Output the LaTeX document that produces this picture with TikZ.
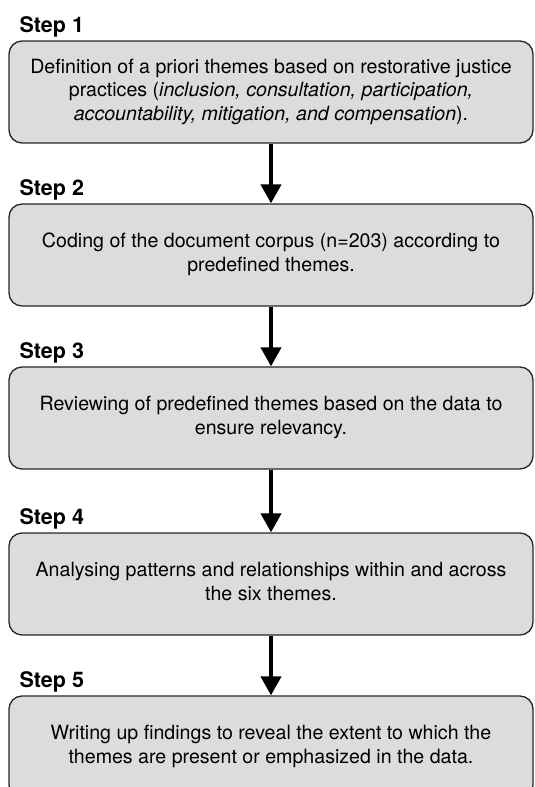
\documentclass[tikz,border=0pt]{standalone}
\usepackage{fontspec}
\setmainfont{TeX Gyre Heros}
\usepackage{tikz}
\usetikzlibrary{arrows.meta,positioning}
\definecolor{boxgray}{RGB}{220,220,220}

\begin{document}
\begin{tikzpicture}[
    auto,
    node distance=163pt,
    >={Triangle[width=20pt,length=19pt]},
    font=\fontsize{19.6}{23.5}\selectfont,
    stepbox/.style={
		rectangle,
		rounded corners=13pt,
		draw=black!85,
		line width=1.3pt,
		text centered,
		minimum width=524pt,
		minimum height=102pt,
		fill=boxgray
	},
	steplabel/.style={
		font=\fontsize{21.5}{25}\selectfont\bfseries,
		inner sep=0pt,
		anchor=base west
	},
	flow/.style={
		line width=4pt
	}
  ]
  \clip (0pt,0pt) rectangle (535pt,-787pt);
    % We start by placing the blocks

  \node [stepbox] (box1) at (271pt,-92pt)
 {%
 \begin{tabular}{c}
  Definition of a priori themes based on restorative justice\\
  practices (\textit{inclusion, consultation, participation,}\\
  \textit{accountability, mitigation, and compensation}).
 \end{tabular}
 };

  \node [stepbox, below of=box1] (box2)
 {%
 \begin{tabular}{c}
  Coding of the document corpus (n=203) according to\\
  predefined themes.
 \end{tabular}
 };

  \node [stepbox, below of=box2] (box3)
 {%
 \begin{tabular}{c}
  Reviewing of predefined themes based on the data to\\
  ensure relevancy.
 \end{tabular}
 };

  \node [stepbox, below of=box3, yshift=-3pt] (box4)
 {%
 \begin{tabular}{c}
  Analysing patterns and relationships within and across\\
  the six themes.
 \end{tabular}
 };

  \node [stepbox, below of=box4] (box5)
 {%
 \begin{tabular}{c}
  Writing up findings to reveal the extent to which the\\
  themes are present or emphasized in the data.
 \end{tabular}
 };

 % step titles
 \node [steplabel] (lab1) at ([xshift=11pt, yshift=8pt]box1.north west) {Step 1};
 \node [steplabel] (lab2) at ([xshift=11pt, yshift=8pt]box2.north west) {Step 2};
 \node [steplabel] (lab3) at ([xshift=11pt, yshift=8pt]box3.north west) {Step 3};
 \node [steplabel] (lab4) at ([xshift=11pt, yshift=8pt]box4.north west) {Step 4};
 \node [steplabel] (lab5) at ([xshift=11pt, yshift=8pt]box5.north west) {Step 5};

 \draw [flow,->] (box1) -- (box2);
 \draw [flow,->] (box2) -- (box3);
 \draw [flow,->] (box3) -- (box4);
 \draw [flow,->] (box4) -- (box5);

\end{tikzpicture}
\end{document}
